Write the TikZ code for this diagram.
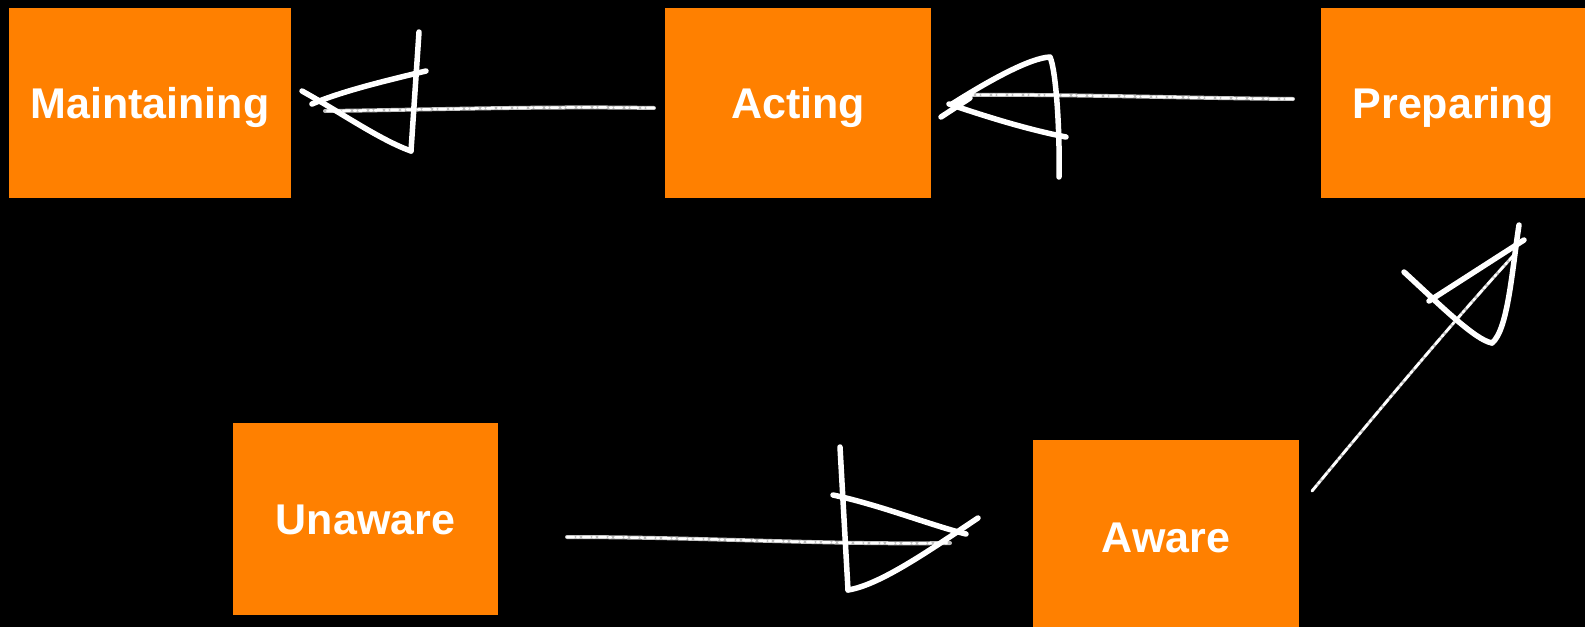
\documentclass[tikz,border=0pt]{standalone}
\usepackage{fontspec}
\setmainfont{Liberation Sans}
\definecolor{boxorange}{RGB}{255,128,0}
\definecolor{chalk}{RGB}{190,190,190}
\begin{document}
\begin{tikzpicture}[x=1pt,y=-1pt,
  box/.style={fill=boxorange, draw=none, inner sep=0pt, text=white,
    text height=31pt, text depth=0pt,
    font=\fontsize{43}{50}\selectfont\bfseries},
  shaft/.style={draw=chalk, line width=4pt, line cap=round,
    postaction={draw=white, line width=2.5pt, dash pattern=on 7pt off 3pt on 2pt off 4pt}},
  head/.style={draw=white, line width=5.5pt, line cap=round, line join=round}]
\fill[black] (0,0) rectangle (1585,627);
\useasboundingbox (0,0) rectangle (1585,627);

% boxes
\node[box, minimum width=282pt, minimum height=190pt] (maint) at (150,103) {Maintaining};
\node[box, minimum width=266pt, minimum height=190pt] (act) at (798,103) {Acting};
\node[box, minimum width=264pt, minimum height=190pt] (prep) at (1453,103) {Preparing};
\node[box, minimum width=265pt, minimum height=192pt] (unaw) at (365.5,519) {Unaware};
\node[box, minimum width=266pt, minimum height=187pt] (aware) at (1166,533.5) {\raisebox{-3pt}{Aware}};

% arrow Acting -> Maintaining
\coordinate (a1s) at (654,108);
\coordinate (a1e) at (325,111);
\draw[shaft] (a1s) .. controls (540,106) and (420,110) .. (a1e);
\coordinate (a1top) at (419,32);
\coordinate (a1bot) at (411,151);
\coordinate (a1up) at (426,71);
\coordinate (a1tip) at (302,91);
\draw[head] (a1top) -- (a1bot);
\draw[head] (a1up) .. controls (380,82) and (340,92) .. (312,104);
\draw[head] (a1tip) .. controls (340,112) and (380,140) .. (a1bot);

% arrow Preparing -> Acting
\coordinate (a2s) at (1293,99);
\coordinate (a2e) at (968,95);
\draw[shaft] (a2s) .. controls (1180,98) and (1060,94) .. (a2e);
\coordinate (a2peak) at (1050,57);
\coordinate (a2bot) at (1059,177);
\draw[head] (952,104) .. controls (990,80) and (1030,58) .. (a2peak) .. controls (1056,70) and (1060,130) .. (a2bot);
\draw[head] (949,104) .. controls (990,118) and (1030,130) .. (1066,137);
\draw[head] (941,117) -- (970,98);

% arrow Aware -> Preparing
\coordinate (a3s) at (1312,491);
\coordinate (a3e) at (1513,256);
\draw[shaft, line width=3pt] (a3s) .. controls (1375,415) and (1450,325) .. (a3e);
\coordinate (a3top) at (1519,225);
\coordinate (a3bot) at (1492,343);
\draw[head] (a3top) .. controls (1512,270) and (1508,330) .. (a3bot);
\draw[head] (1429,301) -- (1524,240);
\draw[head] (1404,272) .. controls (1440,305) and (1475,340) .. (a3bot);

% arrow Unaware -> Aware
\coordinate (a4s) at (567,537);
\coordinate (a4e) at (950,543);
\draw[shaft] (a4s) .. controls (700,537) and (830,545) .. (a4e);
\coordinate (a4top) at (840,447);
\coordinate (a4bot) at (848,590);
\draw[head] (a4top) -- (a4bot);
\draw[head] (833,495) .. controls (880,505) and (930,525) .. (966,534);
\draw[head] (a4bot) .. controls (880,585) and (930,550) .. (978,518);
\end{tikzpicture}
\end{document}
